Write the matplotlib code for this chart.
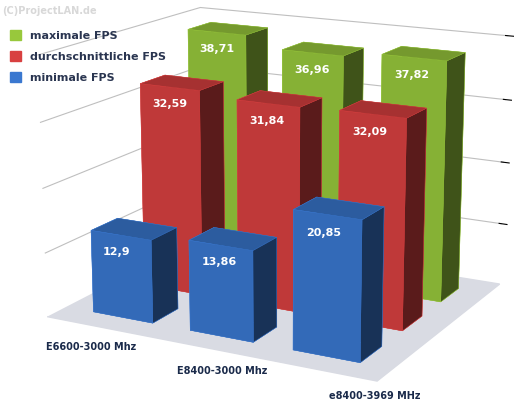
import matplotlib
matplotlib.use("Agg")
import matplotlib.pyplot as plt
import numpy as np
from matplotlib.patches import Patch

categories = ["E6600-3000 Mhz", "E8400-3000 Mhz", "e8400-3969 MHz"]
series = ["minimale FPS", "durchschnittliche FPS", "maximale FPS"]
minimale = [12.9, 13.86, 20.85]
durchschnitt = [32.59, 31.84, 32.09]
maximale = [38.71, 36.96, 37.82]
values = [minimale, durchschnitt, maximale]
colors = ["#3a78d0", "#d84040", "#98c83c"]

fig = plt.figure(figsize=(5.14, 4.09), dpi=100)
ax = fig.add_axes([-0.12, -0.08, 1.3, 1.3], projection="3d")
ax.view_init(elev=15, azim=-62)
ax.set_proj_type("persp", focal_length=0.6)

w, d = 0.62, 0.5
for si, vals in enumerate(values):
    for ci, v in enumerate(vals):
        ax.bar3d(ci - w/2, si - d/2, 0, w, d, v, color=colors[si], shade=True,
                 edgecolor=colors[si], linewidth=0.3)
        ax.text(ci - w/2 + 0.12, si - d/2, v - 3.5, f"{v:g}".replace(".", ","),
                color="white", fontsize=8, fontweight="bold", zorder=100)

ax.set_xlim(-0.6, 2.6)
ax.set_ylim(-0.6, 2.6)
ax.set_zlim(0, 42)
ax.set_xticks([]); ax.set_yticks([])
ax.set_zticks([10, 20, 30, 40]); ax.set_zticklabels([])
ax.xaxis.set_pane_color((1, 1, 1, 0))
ax.yaxis.set_pane_color((1, 1, 1, 0))
ax.zaxis.set_pane_color((0.85, 0.86, 0.89, 1))
for a in (ax.xaxis, ax.yaxis, ax.zaxis):
    a.line.set_color((1, 1, 1, 0))
ax.xaxis._axinfo["grid"]["color"] = (1, 1, 1, 0)
ax.yaxis._axinfo["grid"]["color"] = (0.75, 0.75, 0.75, 1)
ax.zaxis._axinfo["grid"]["color"] = (0.75, 0.75, 0.75, 1)
ax.set_box_aspect((1.3, 1.1, 1.0))

label_pos = [(0.09, 0.145), (0.345, 0.085), (0.64, 0.025)]
for c, (x, y) in zip(categories, label_pos):
    fig.text(x, y, c, fontsize=7, fontweight="bold", color="#1a2a4a")

handles = [Patch(color=colors[i]) for i in (2, 1, 0)]
fig.legend(handles, [series[i] for i in (2, 1, 0)], loc="upper left",
           bbox_to_anchor=(0.0, 0.95), frameon=False,
           prop={"weight": "bold", "size": 8}, handlelength=1, handleheight=1,
           labelspacing=0.9, labelcolor="#2a3550")
fig.text(0.005, 0.985, "(C)ProjectLAN.de", fontsize=7, fontweight="bold",
         color="#d8d8d8", va="top")
fig.savefig("out.png", dpi=100)
